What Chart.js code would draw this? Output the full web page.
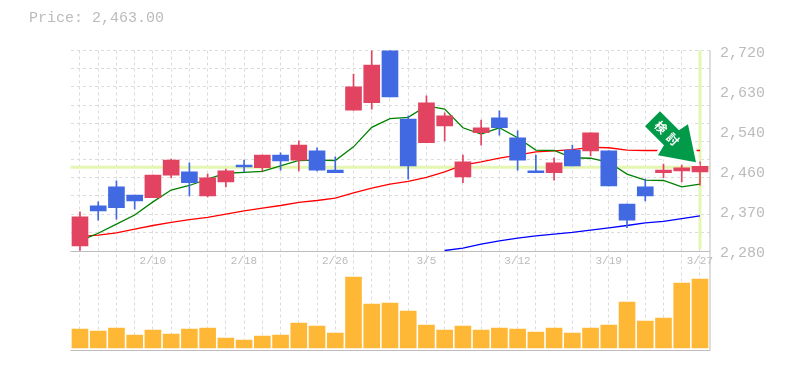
<!DOCTYPE html>
<html lang="en">
  <head>
    <meta charset="utf-8" />
    <title>Price</title>
    <script src="https://cdn.jsdelivr.net/npm/chart.js@4/dist/chart.umd.js"></script>
    <style>
      html, body { margin: 0; padding: 0; background: #fff; }
      #wrap { position: relative; width: 785px; height: 370px; }
      #title { position: absolute; left: 29px; top: 10px; font: 15px "Liberation Mono", monospace; color: #bbb; }
    </style>
  </head>
  <body>
    <div id="wrap">
      <div id="title">Price: 2,463.00</div>
      <canvas id="myChart" width="785" height="370"></canvas>
    </div>
    <script>
      const opens = [2290, 2378, 2420, 2402, 2396, 2446, 2453, 2400, 2431, 2468, 2462, 2490, 2479, 2499, 2457, 2589, 2605, 2725, 2569, 2517, 2554, 2442, 2539, 2572, 2528, 2455, 2451, 2501, 2499, 2499, 2382, 2420, 2451, 2455, 2453];
      const highs = [2365, 2387, 2433, 2402, 2446, 2481, 2473, 2448, 2459, 2479, 2490, 2495, 2521, 2506, 2486, 2668, 2735, 2740, 2576, 2620, 2583, 2490, 2567, 2587, 2543, 2490, 2484, 2512, 2539, 2499, 2382, 2437, 2470, 2468, 2475];
      const lows = [2280, 2347, 2349, 2371, 2396, 2440, 2400, 2398, 2420, 2453, 2455, 2457, 2455, 2455, 2451, 2589, 2591, 2618, 2437, 2517, 2521, 2429, 2512, 2534, 2457, 2451, 2435, 2466, 2488, 2422, 2330, 2389, 2440, 2431, 2424];
      const closes = [2354, 2367, 2374, 2389, 2446, 2479, 2429, 2440, 2455, 2464, 2490, 2477, 2512, 2457, 2451, 2640, 2688, 2618, 2466, 2605, 2576, 2475, 2550, 2550, 2479, 2451, 2473, 2466, 2539, 2422, 2347, 2400, 2457, 2462, 2465];
      const avgShort = [2301, 2318, 2338, 2358, 2387, 2413, 2423, 2437, 2450, 2452, 2454, 2466, 2478, 2479, 2478, 2508, 2551, 2570, 2573, 2598, 2591, 2550, 2536, 2550, 2528, 2501, 2500, 2484, 2483, 2474, 2448, 2435, 2434, 2420, 2426];
      const avgMid = [2311, 2314, 2319, 2327, 2335, 2342, 2348, 2353, 2360, 2367, 2373, 2379, 2386, 2390, 2395, 2407, 2417, 2426, 2432, 2441, 2453, 2468, 2475, 2483, 2490, 2497, 2499, 2502, 2507, 2506, 2501, 2500, 2500, 2500, 2500];
      const avgLong = [null, null, null, null, null, null, null, null, null, null, null, null, null, null, null, null, null, null, null, null, 2280, 2285, 2294, 2301, 2307, 2312, 2316, 2320, 2325, 2330, 2335, 2341, 2344, 2350, 2356];
      const volumes = [57, 51, 60, 39, 54, 42, 57, 60, 30, 24, 36, 39, 75, 66, 45, 213, 132, 135, 111, 69, 54, 66, 54, 60, 57, 48, 60, 45, 60, 69, 138, 81, 90, 195, 207];
      const dateIndexes = [4, 9, 14, 19, 24, 29, 34];
      const dateLabels = ["2/10", "2/18", "2/26", "3/5", "3/12", "3/19", "3/27"];
      const priceTicks = [2720, 2632, 2544, 2456, 2368, 2280];
      const priceLabels = ["2,720", "2,630", "2,540", "2,460", "2,370", "2,280"];
      const lastPrice = 2463;
      const lastIndex = 34;

      const UP = "#e24360";
      const DOWN = "#4169e1";
      const GRID = "#dcdcdc";
      const TEXT = "#bbbbbb";
      const BAND = "#e4f6b0";
      const FRAME = "#bdbdbd";
      const FONT = "Liberation Mono";

      const xy = (ys) => ys.map((y, i) => ({ x: i, y: y }));
      const range = (a, b) => a.map((v, i) => ({ x: i, y: [v, b[i]] }));
      const candleColors = closes.map((c, i) => (c >= opens[i] ? UP : DOWN));

      // last price cross, frame lines
      const backdrop = {
        id: "backdrop",
        beforeDatasetsDraw(chart) {
          const { ctx, chartArea: a, scales } = chart;
          const py = scales.y.getPixelForValue(lastPrice);
          const px = scales.x.getPixelForValue(lastIndex);
          const bottom = scales.y.getPixelForValue(2280);
          ctx.save();
          ctx.strokeStyle = BAND;
          ctx.lineWidth = 3;
          ctx.beginPath();
          ctx.moveTo(a.left, py);
          ctx.lineTo(a.right, py);
          ctx.moveTo(px, a.top);
          ctx.lineTo(px, bottom - 1);
          ctx.stroke();
          ctx.strokeStyle = FRAME;
          ctx.lineWidth = 1;
          ctx.beginPath();
          ctx.moveTo(a.left, Math.round(bottom) + 0.5);
          ctx.lineTo(a.right, Math.round(bottom) + 0.5);
          ctx.moveTo(a.right, a.top);
          ctx.lineTo(a.right, a.bottom);
          ctx.lineTo(a.left, a.bottom);
          ctx.stroke();
          ctx.restore();
        },
      };

      // the green marker arrow above the last candle
      const marker = {
        id: "marker",
        afterDatasetsDraw(chart) {
          const { ctx } = chart;
          ctx.save();
          ctx.translate(chart.scales.x.getPixelForValue(lastIndex) - 4, chart.scales.y.getPixelForValue(lastPrice) - 5);
          ctx.beginPath();
          ctx.moveTo(0, 0);
          ctx.lineTo(-38, -7);
          ctx.lineTo(-32, -17);
          ctx.lineTo(-51, -36);
          ctx.lineTo(-36, -51);
          ctx.lineTo(-17, -32);
          ctx.lineTo(-8, -38);
          ctx.closePath();
          ctx.strokeStyle = "#fff";
          ctx.lineWidth = 6;
          ctx.lineJoin = "miter";
          ctx.stroke();
          ctx.fillStyle = "#009a49";
          ctx.fill();
          ctx.translate(-29, -29);
          ctx.rotate(Math.PI / 4);
          ctx.fillStyle = "#fff";
          ctx.font = "bold 12px 'Noto Sans CJK JP'";
          ctx.textAlign = "center";
          ctx.textBaseline = "middle";
          ctx.fillText("検", -8.5, 0);
          ctx.fillText("討", 8.5, 0);
          ctx.restore();
        },
      };

      new Chart(document.getElementById("myChart"), {
        type: "bar",
        data: {
          datasets: [
            { data: range(opens, closes), backgroundColor: candleColors, barThickness: 16, order: 1, yAxisID: "y" },
            { data: range(lows, highs), backgroundColor: candleColors, barThickness: 1, order: 2, yAxisID: "y" },
            { type: "line", data: xy(avgShort), borderColor: "#008000", borderWidth: 1.3, pointRadius: 0, order: 3, yAxisID: "y" },
            { type: "line", data: xy(avgMid), borderColor: "#ff0000", borderWidth: 1.3, pointRadius: 0, order: 3, yAxisID: "y" },
            { type: "line", data: xy(avgLong), borderColor: "#0000ff", borderWidth: 1.3, pointRadius: 0, order: 3, yAxisID: "y" },
            { data: xy(volumes), backgroundColor: "#ffb835", barThickness: 16, order: 4, yAxisID: "yVolume" },
          ],
        },
        plugins: [backdrop, marker],
        options: {
          responsive: false,
          animation: false,
          events: [],
          layout: { padding: { left: 70.5, top: 50.5, right: 0, bottom: 19.5 } },
          plugins: { legend: { display: false }, tooltip: { enabled: false } },
          datasets: { bar: { grouped: false } },
          scales: {
            x: {
              type: "linear",
              offset: false,
              min: -0.52,
              max: 34.55,
              position: { y: 2280 },
              afterBuildTicks(scale) {
                scale.ticks = opens.map((v, i) => ({ value: i - 0.5 }));
              },
              grid: { color: GRID, drawTicks: false },
              border: { display: false, dash: [3, 3] },
              ticks: {
                autoSkip: false,
                maxRotation: 0,
                minRotation: 0,
                padding: 4,
                labelOffset: 9,
                color: TEXT,
                font: { family: FONT, size: 11 },
                callback(value) {
                  const at = dateIndexes.indexOf(value + 0.5);
                  return at < 0 ? "" : dateLabels[at];
                },
              },
            },
            y: {
              min: 2060,
              max: 2720,
              position: "left",
              afterBuildTicks(scale) {
                const ticks = [];
                for (let v = 2720; v > 2280; v -= 40) ticks.push({ value: v });
                scale.ticks = ticks;
              },
              afterFit(scale) { scale.width = 0; },
              grid: { color: GRID, drawTicks: false },
              border: { display: false, dash: [3, 3] },
              ticks: { display: false },
            },
            yPrice: {
              min: 2060,
              max: 2720,
              position: "right",
              afterBuildTicks(scale) {
                scale.ticks = priceTicks.map((v) => ({ value: v }));
              },
              afterFit(scale) { scale.width = 75; },
              grid: { display: false },
              border: { display: false },
              ticks: {
                autoSkip: false,
                padding: 2,
                labelOffset: 3,
                color: TEXT,
                font: { family: FONT, size: 15 },
                callback(value) {
                  return priceLabels[priceTicks.indexOf(value)];
                },
              },
            },
            yVolume: { display: false, min: -7.5, max: 892.5 },
          },
        },
      });
    </script>
  </body>
</html>
